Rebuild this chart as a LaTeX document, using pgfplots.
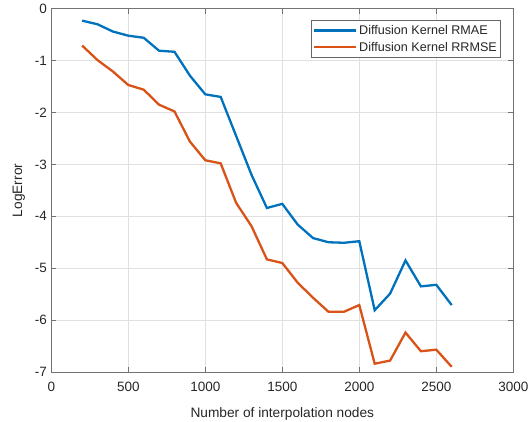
\documentclass[border=0pt]{standalone}
\usepackage{fontspec}
\setmainfont{Liberation Sans}
\usepackage{pgfplots}
\pgfplotsset{compat=1.18}
\definecolor{mblue}{rgb}{0,0.447,0.741}
\definecolor{morange}{rgb}{0.85,0.325,0.098}
\definecolor{axgray}{rgb}{0.15,0.15,0.15}
\begin{document}
\begin{tikzpicture}
\begin{axis}[
  scale only axis,
  width=462pt, height=363.3pt,
  xmin=0, xmax=3000, ymin=-7, ymax=0,
  xtick={0,500,...,3000},
  ytick={-7,-6,...,0},
  axis line style={draw=black!55, line width=0.6pt},
  tick style={draw=black!55, line width=0.6pt},
  tick align=inside, tick pos=both,
  major tick length=5pt,
  grid=major,
  grid style={draw=black!12, line width=0.5pt},
  /pgf/number format/assume math mode=true,
  /pgf/number format/1000 sep={},
  ticklabel style={font=\fontsize{13.5}{16}\selectfont, text=axgray},
  xticklabel style={yshift=-6.5pt},
  yticklabel style={xshift=-1pt},
  xlabel={Number of interpolation nodes},
  ylabel={LogError},
  label style={font=\fontsize{13.7}{16}\selectfont, text=axgray},
  x label style={at={(axis description cs:0.5,-0.116)}, anchor=center},
  y label style={at={(axis description cs:-0.07,0.5)}, anchor=center},
  legend style={at={(rel axis cs:0.9727,0.9689)}, anchor=north east,
    draw=black!60, line width=0.6pt, fill=white,
    font=\fontsize{12.6}{15}\selectfont, text=axgray,
    inner xsep=1.5pt, inner ysep=3pt, row sep=2pt,
    nodes={inner sep=2pt}},
  legend cell align=left,
  legend image code/.code={\draw[#1] (0pt,0pt) -- (42pt,0pt);},
]
\addplot[mblue, line width=2.3pt] coordinates {
(200,-0.23) (300,-0.30) (400,-0.44) (500,-0.52) (600,-0.56) (700,-0.81)
(800,-0.83) (900,-1.29) (1000,-1.65) (1100,-1.70) (1200,-2.45) (1300,-3.20)
(1400,-3.84) (1500,-3.76) (1600,-4.16) (1700,-4.42) (1800,-4.50) (1900,-4.51)
(2000,-4.48) (2100,-5.81) (2200,-5.49) (2300,-4.85) (2400,-5.35) (2500,-5.32)
(2600,-5.71)};
\addlegendentry{Diffusion Kernel RMAE}
\addplot[morange, line width=2.3pt] coordinates {
(200,-0.71) (300,-0.99) (400,-1.21) (500,-1.47) (600,-1.56) (700,-1.85)
(800,-1.98) (900,-2.56) (1000,-2.92) (1100,-2.98) (1200,-3.74) (1300,-4.19)
(1400,-4.83) (1500,-4.90) (1600,-5.28) (1700,-5.57) (1800,-5.84) (1900,-5.84)
(2000,-5.71) (2100,-6.84) (2200,-6.78) (2300,-6.24) (2400,-6.60) (2500,-6.57)
(2600,-6.90)};
\addlegendentry{Diffusion Kernel RRMSE}
\end{axis}
\pgfresetboundingbox
\path (current axis.south west) ++(-51.3pt,-49pt) coordinate (bbA);
\path (current axis.north east) ++(14.7pt,8.7pt) coordinate (bbB);
\path[use as bounding box] (bbA) rectangle (bbB);
\end{tikzpicture}
\end{document}
